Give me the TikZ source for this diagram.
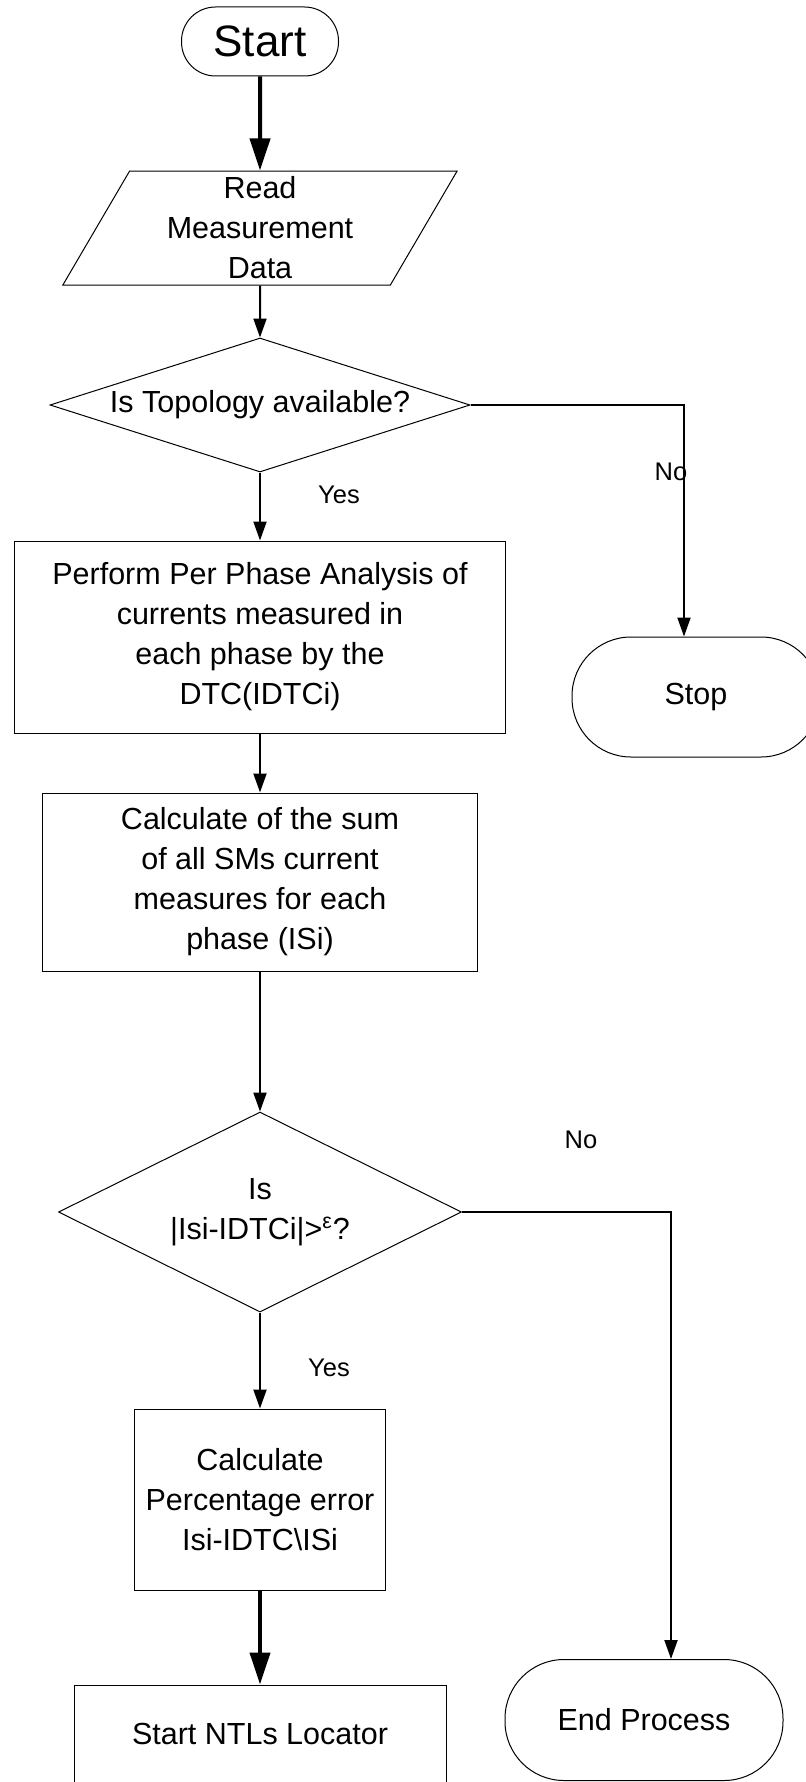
\documentclass[tikz,border=0pt]{standalone}
\usepackage{fontspec}
\setmainfont{Liberation Sans}
\usetikzlibrary{arrows.meta,shapes.geometric}
\begin{document}
\begin{tikzpicture}[x=0.5pt,y=-0.5pt,>={Triangle[length=9.5pt,width=6.5pt]},
  txt/.style={font=\fontsize{15.25pt}{20pt}\selectfont,align=center,inner sep=0pt},
  outline/.style={txt,draw,line width=0.5pt},
  term/.style={outline,rounded corners=29.5pt,minimum height=60pt},
  process/.style={outline,rectangle},
  decision/.style={outline,diamond},
  flow/.style={->,line width=1pt},
  bigflow/.style={-{Triangle[length=16pt,width=10pt]},line width=2pt},
  lbl/.style={font=\fontsize{12.75pt}{15pt}\selectfont,inner sep=0pt}]
\path[use as bounding box,fill=white] (0,0) rectangle (806,1782);
\node[outline,rounded corners=17pt,minimum width=78.5pt,minimum height=34.5pt,font=\fontsize{22pt}{26pt}\selectfont] (start) at (260,41.5) {Start};
\node[outline,trapezium,trapezium left angle=65,trapezium right angle=115,trapezium stretches=true,minimum width=197.5pt,minimum height=57pt] (read) at (260,228) {Read\\Measurement\\Data};
\node[decision,aspect=3.13,minimum width=210pt,minimum height=67pt] (d1) at (260,405) {Is Topology available?};
\node[process,minimum width=245.5pt,minimum height=96pt] (perform) at (260,637) {Perform Per Phase Analysis of\\currents measured in\\each phase by the\\DTC(IDTCi)};
\node[term,minimum width=124pt] (stop) at (696,697) {Stop};
\node[process,minimum width=217.5pt,minimum height=89pt] (sum) at (260,882) {Calculate of the sum\\of all SMs current\\measures for each\\phase (ISi)};
\node[decision,aspect=2,minimum width=201.5pt,minimum height=100pt] (d2) at (260,1212) {Is\\|Isi-IDTCi|>\textsuperscript{ε}?};
\node[process,minimum width=125.5pt,minimum height=90.5pt] (perc) at (260,1499.5) {Calculate\\Percentage error\\Isi-IDTC\textbackslash ISi};
\node[process,minimum width=186pt,minimum height=49pt] (ntl) at (260,1734) {Start NTLs Locator};
\node[term,minimum width=139pt,minimum height=60.5pt] (endp) at (644,1720) {End Process};
\node[lbl] (yes1) at (339,495) {Yes};
\node[lbl] (no1) at (671,472) {No};
\node[lbl] (no2) at (581,1140) {No};
\node[lbl] (yes2) at (329,1368) {Yes};
\draw[bigflow] (start.south) -- (read.north);
\draw[flow] (read.south) -- (d1.north);
\draw[flow] (d1.south) -- (perform.north);
\draw[flow] (d1.east) -| ([xshift=-6pt]stop.north);
\draw[flow] (perform.south) -- (sum.north);
\draw[flow] (sum.south) -- (d2.north);
\draw[flow] (d2.east) -| ([xshift=13.5pt]endp.north);
\draw[flow] (d2.south) -- (perc.north);
\draw[bigflow] (perc.south) -- (ntl.north);
\end{tikzpicture}
\end{document}
